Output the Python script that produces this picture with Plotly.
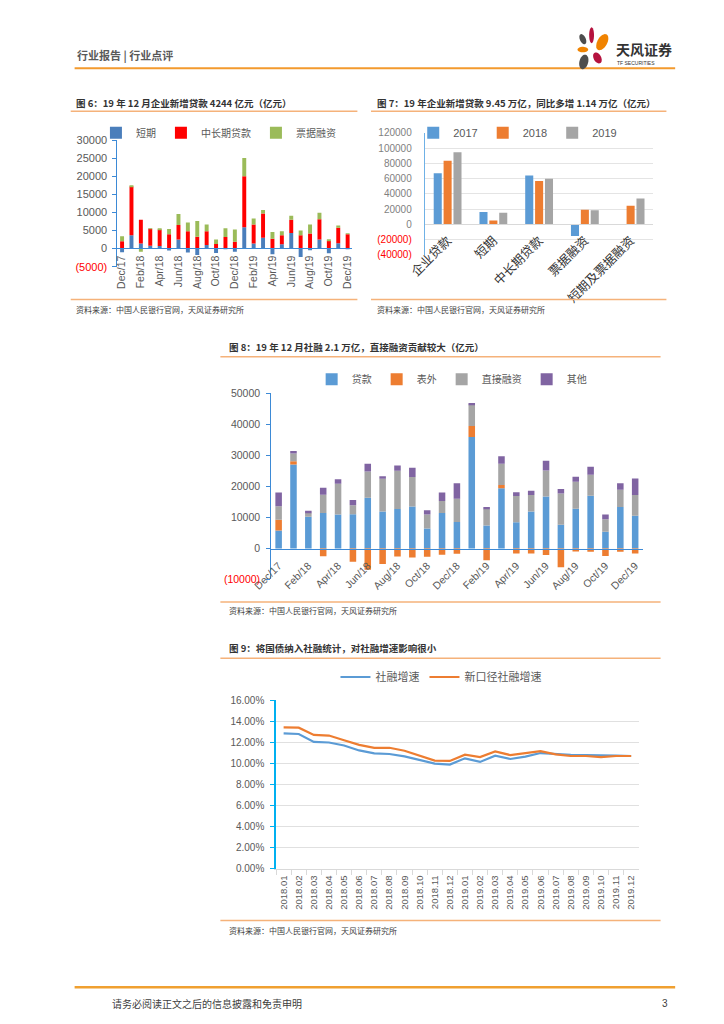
import numpy as np
import plotly.graph_objects as go

# Page is 724x1024; the figure sits inside the browser's default 8px body margin.
PAGE_W, PAGE_H = 724, 1024
OFF = 8
W, H = PAGE_W - 2 * OFF, PAGE_H - 2 * OFF
def px(x): return (x - OFF) / W
def py(y): return 1 - (y - OFF) / H

CJK = "Noto Sans CJK SC"
NUM = "Liberation Sans"
GRAY = "#595959"

# ---------------- Fig 6 data ----------------
months = ["Dec/17", "Jan/18", "Feb/18", "Mar/18", "Apr/18", "May/18", "Jun/18", "Jul/18",
          "Aug/18", "Sep/18", "Oct/18", "Nov/18", "Dec/18", "Jan/19", "Feb/19", "Mar/19",
          "Apr/19", "May/19", "Jun/19", "Jul/19", "Aug/19", "Sep/19", "Oct/19", "Nov/19", "Dec/19"]
month_ticks = ["Dec/17", "Feb/18", "Apr/18", "Jun/18", "Aug/18", "Oct/18", "Dec/18",
               "Feb/19", "Apr/19", "Jun/19", "Aug/19", "Oct/19", "Dec/19"]
f6_names = ["短期", "中长期贷款", "票据融资"]
f6_short = [-1000, 3700, 1400, 800, 700, -500, 2500, -1100, -1800, 1000, -1200, 100, -900,
            5900, 1400, 3000, -1600, 1200, 4300, -2300, -400, 2500, -1300, 1500, 100]
f6_midlong = [2000, 13500, 6600, 4700, 4600, 4000, 4000, 4800, 3300, 3800, 1300, 3100, 1900,
              14100, 5300, 6700, 2700, 2500, 3700, 3700, 4200, 5600, 2200, 4300, 3900]
f6_bill = [1400, 200, -900, 100, 200, 1400, 3100, 2400, 4300, 1900, 1200, 2400, 3400,
           5100, 1600, 1000, 1900, 1100, 1100, 1300, 2500, 1800, 200, 600, 200]
f6_yticks = [-5000, 0, 5000, 10000, 15000, 20000, 25000, 30000]
f6_yticktext = ['<span style="color:#FF0000">(5000)</span>', "0", "5000", "10000", "15000",
                "20000", "25000", "30000"]

# ---------------- Fig 7 data ----------------
f7_cats = ["企业贷款", "短期", "中长期贷款", "票据融资", "短期及票据融资"]
f7_years = ["2017", "2018", "2019"]
f7_2017 = [67000, 16400, 64000, -15100, None]
f7_2018 = [83500, 5200, 56800, 19400, 24600]
f7_2019 = [94500, 15500, 59800, 18600, 34100]
f7_yticks = [-40000, -20000, 0, 20000, 40000, 60000, 80000, 100000, 120000]
f7_yticktext = ['<span style="color:#FF0000">(40000)</span>', '<span style="color:#FF0000">(20000)</span>',
                "0", "20000", "40000", "60000", "80000", "100000", "120000"]

# ---------------- Fig 8 data ----------------
f8_names = ["贷款", "表外", "直接融资", "其他"]
f8_loan = [5800, 27000, 10200, 11400, 10900, 11000, 16300, 11900, 12700, 13500, 6400, 11400, 8500,
           35900, 7400, 19400, 8400, 11900, 16700, 7600, 12800, 17000, 5400, 13300, 10500]
f8_offbal = [3400, 1100, 0, -2500, 0, -4300, -6900, -5000, -2600, -2900, -2700, -2000, -1700,
             3500, -3800, 1000, -1600, -1600, -2100, -6100, -1000, -1100, -2400, -1100, -1600]
f8_direct = [4400, 2500, 1300, 5900, 9900, 2900, 8500, 10500, 12300, 9500, 4500, 3900, 7500,
             6900, 5400, 6900, 8500, 5300, 8400, 10100, 8700, 6700, 4000, 5600, 6700]
f8_other = [4400, 800, 600, 2200, 1500, 1700, 2500, 800, 1700, 3000, 1400, 2700, 5000,
            500, 500, 2400, 1200, 1400, 3100, 1400, 1600, 2600, 1500, 2100, 5300]
f8_yticks = [-10000, 0, 10000, 20000, 30000, 40000, 50000]
f8_yticktext = ['<span style="color:#FF0000">(10000)</span>', "0", "10000", "20000", "30000",
                "40000", "50000"]

# ---------------- Fig 9 data ----------------
f9_months = ["2018.01", "2018.02", "2018.03", "2018.04", "2018.05", "2018.06", "2018.07", "2018.08",
             "2018.09", "2018.10", "2018.11", "2018.12", "2019.01", "2019.02", "2019.03", "2019.04",
             "2019.05", "2019.06", "2019.07", "2019.08", "2019.09", "2019.10", "2019.11", "2019.12"]
f9_names = ["社融增速", "新口径社融增速"]
f9_tsf = [12.84, 12.78, 12.03, 11.97, 11.69, 11.22, 10.94, 10.88, 10.66, 10.34, 9.97, 9.88,
          10.47, 10.13, 10.72, 10.41, 10.63, 10.97, 10.88, 10.81, 10.78, 10.72, 10.72, 10.69]
f9_tsf_new = [13.41, 13.38, 12.69, 12.63, 12.19, 11.75, 11.47, 11.47, 11.19, 10.72, 10.25, 10.22,
              10.81, 10.59, 11.13, 10.78, 11.00, 11.16, 10.84, 10.69, 10.69, 10.59, 10.69, 10.69]

SOURCE = "资料来源：中国人民银行官网，天风证券研究所"


def stack_bases(*series):
    n = len(series[0])
    pos = np.zeros(n)
    neg = np.zeros(n)
    out = []
    for s in series:
        a = np.array(s, dtype=float)
        out.append(np.where(a >= 0, pos, neg))
        pos = pos + np.clip(a, 0, None)
        neg = neg + np.clip(a, None, 0)
    return out


fig = go.Figure()

# Fig 6 stacked bars
f6_colors = ["#4A7EBB", "#FF0000", "#9BBB59"]
for name, vals, base, col in zip(f6_names, [f6_short, f6_midlong, f6_bill],
                                 stack_bases(f6_short, f6_midlong, f6_bill), f6_colors):
    fig.add_trace(go.Bar(x=months, y=vals, base=base, name=name, width=0.42, offset=-0.21,
                         marker=dict(color=col, line=dict(width=0)), xaxis="x", yaxis="y",
                         legend="legend"))

# Fig 7 grouped bars
f7_colors = ["#5B9BD5", "#ED7D31", "#A5A5A5"]
for name, vals, col, off in zip(f7_years, [f7_2017, f7_2018, f7_2019], f7_colors,
                                [-0.304, -0.088, 0.128]):
    fig.add_trace(go.Bar(x=f7_cats, y=vals, name=name, width=0.176, offset=off,
                         marker=dict(color=col, line=dict(width=0)), xaxis="x2", yaxis="y2",
                         legend="legend2"))

# Fig 8 stacked bars
f8_colors = ["#5B9BD5", "#ED7D31", "#A5A5A5", "#8064A2"]
for name, vals, base, col in zip(f8_names, [f8_loan, f8_offbal, f8_direct, f8_other],
                                 stack_bases(f8_loan, f8_offbal, f8_direct, f8_other), f8_colors):
    fig.add_trace(go.Bar(x=months, y=vals, base=base, name=name, width=0.44, offset=-0.22,
                         marker=dict(color=col, line=dict(width=0)), xaxis="x3", yaxis="y3",
                         legend="legend3"))

# Fig 9 lines
for name, vals, col in zip(f9_names, [f9_tsf, f9_tsf_new], ["#5B9BD5", "#ED7D31"]):
    fig.add_trace(go.Scatter(x=f9_months, y=vals, name=name, mode="lines",
                             line=dict(color=col, width=2.2), xaxis="x4", yaxis="y4",
                             legend="legend4"))

BLUE_AX = "#3D8AD6"
num_font = lambda s, c=GRAY: dict(family=NUM, size=s, color=c)

leg_common = dict(orientation="h", xanchor="center", yanchor="middle",
                  bgcolor="rgba(0,0,0,0)", itemwidth=30, tracegroupgap=0)

fig.update_layout(
    width=W, height=H, margin=dict(l=0, r=0, t=0, b=0),
    paper_bgcolor="white", plot_bgcolor="rgba(0,0,0,0)",
    barmode="overlay", font=dict(family=CJK, color="#404040"),
    # Fig 6
    xaxis=dict(domain=[px(101), px(342.8)], type="category", range=[-0.5, 24.5],
               anchor="free", position=py(245.3), showline=True, linecolor=BLUE_AX, linewidth=1,
               tickmode="array", tickvals=month_ticks, ticktext=month_ticks, tickangle=-90,
               tickfont=num_font(10.5), ticks="", showgrid=False, zeroline=False,
               ticklabelstandoff=2),
    yaxis=dict(domain=[py(263.7), py(135.7)], anchor="x", range=[-5000, 30000],
               tickmode="array", tickvals=f6_yticks, ticktext=f6_yticktext,
               showline=True, linecolor=BLUE_AX, ticks="outside", ticklen=4, tickcolor=BLUE_AX,
               showgrid=False, zeroline=False, tickfont=num_font(11), ticklabelstandoff=3),
    # Fig 7
    xaxis2=dict(domain=[px(417.3), px(652.7)], type="category", range=[-0.5, 4.5],
                anchor="free", position=py(221), showline=True, linecolor="#D9D9D9", linewidth=1,
                tickangle=-45, tickfont=dict(family=CJK, size=12.5, color="#333333"), ticks="",
                showgrid=False, zeroline=False, ticklabelstandoff=3),
    yaxis2=dict(domain=[py(251.9), py(128.3)], anchor="x2", range=[-40000, 120000],
                tickmode="array", tickvals=f7_yticks, ticktext=f7_yticktext,
                showline=True, linecolor="#6FB1E6", ticks="", showgrid=True, gridcolor="#E4E4E4",
                gridwidth=1, zeroline=False, tickfont=num_font(10, "#7F7F7F"), ticklabelstandoff=10),
    # Fig 8
    xaxis3=dict(domain=[px(259.3), px(641.5)], type="category", range=[-0.5, 24.5],
                anchor="free", position=py(549), showline=True, linecolor=BLUE_AX, linewidth=1,
                tickmode="array", tickvals=month_ticks, ticktext=month_ticks, tickangle=-45,
                tickfont=num_font(10.5), ticks="", showgrid=False, zeroline=False,
                ticklabelstandoff=6),
    yaxis3=dict(domain=[py(580.3), py(391.7)], anchor="x3", range=[-10000, 50000],
                tickmode="array", tickvals=f8_yticks, ticktext=f8_yticktext,
                showline=True, linecolor=BLUE_AX, ticks="outside", ticklen=4, tickcolor=BLUE_AX,
                showgrid=False, zeroline=False, tickfont=num_font(10.5), ticklabelstandoff=4),
    # Fig 9
    xaxis4=dict(domain=[px(264.3), px(637.5)], type="category", range=[-0.5, 23.5],
                anchor="y4", showline=True, linecolor="#D9D9D9", linewidth=1,
                ticks="outside", tickson="boundaries", ticklen=5, tickcolor="#D9D9D9",
                tickangle=-90, tickfont=num_font(9.5), showgrid=False, zeroline=False,
                ticklabelstandoff=2),
    yaxis4=dict(domain=[py(873), py(702.3)], anchor="x4", range=[0, 16], dtick=2,
                tickformat=".2f", ticksuffix="%", showline=True, linecolor="#00B0F0", linewidth=1.5,
                ticks="outside", ticklen=4, tickcolor="#00B0F0", showgrid=True,
                gridcolor="#E0E0E0", gridwidth=1, zeroline=False, tickfont=num_font(10),
                ticklabelstandoff=4),
    legend=dict(x=px(205), y=py(128.3), font=dict(family=CJK, size=10, color=GRAY), **leg_common),
    legend2=dict(x=px(513), y=py(128.3), font=dict(family=NUM, size=11, color=GRAY), **leg_common),
    legend3=dict(x=px(445), y=py(377.7), font=dict(family=CJK, size=10, color=GRAY), **leg_common),
    legend4=dict(x=px(434), y=py(679), font=dict(family=CJK, size=11, color=GRAY), **leg_common),
)

# ---------- page decorations: lines ----------
def hline(x0, x1, y, color, width):
    fig.add_shape(type="line", xref="paper", yref="paper", x0=px(x0), x1=px(x1),
                  y0=py(y), y1=py(y), line=dict(color=color, width=width))

LIGHT_OR = "#F5B27A"
hline(57, 675, 63, "#F39A2E", 2)
hline(53, 348, 106.5, LIGHT_OR, 1.5)
hline(53, 348, 297, LIGHT_OR, 1.5)
hline(362, 666, 106.5, LIGHT_OR, 1.5)
hline(362, 666, 297, LIGHT_OR, 1.5)
hline(207, 660, 355, LIGHT_OR, 1.5)
hline(207, 660, 603, LIGHT_OR, 1.5)
hline(207, 660, 660, LIGHT_OR, 1.5)
hline(207, 660, 925.5, LIGHT_OR, 1.5)
hline(57, 675, 993, "#F0A030", 2.5)

# ---------- logo petals ----------
def ellipse_path(cx, cy, rx, ry, ang):
    t = np.linspace(0, 2 * np.pi, 30)
    a = np.deg2rad(ang)
    xs = cx + rx * np.cos(t) * np.cos(a) - ry * np.sin(t) * np.sin(a)
    ys = cy + rx * np.cos(t) * np.sin(a) + ry * np.sin(t) * np.cos(a)
    pts = [f"{px(x):.5f},{py(y):.5f}" for x, y in zip(xs, ys)]
    return "M" + "L".join(pts) + "Z"

petals = [(580, 33.5, 3, 5.5, -25, "#4D4D4D"),
          (589, 29.5, 2.5, 8, 0, "#B5123E"),
          (600, 36.5, 5, 9, 30, "#F08300"),
          (580, 44, 5.5, 2.8, 0, "#F08300"),
          (581, 56.5, 4.5, 7.5, 15, "#4D4D4D"),
          (595, 52.5, 3.8, 6, -30, "#B5123E")]
for cx, cy, rx, ry, ang, col in petals:
    fig.add_shape(type="path", xref="paper", yref="paper", path=ellipse_path(cx, cy, rx, ry, ang),
                  fillcolor=col, line=dict(width=0))

# ---------- texts ----------
def text(x, y, s, size, color="#333333", family=CJK, anchor="left"):
    fig.add_annotation(xref="paper", yref="paper", x=px(x), y=py(y), text=s, showarrow=False,
                       xanchor=anchor, yanchor="middle", font=dict(family=family, size=size, color=color))

text(57, 50, "<b>行业报告 | 行业点评</b>", 11, "#595959")
text(612, 43, "<b>天风证券</b>", 14, "#333333")
text(613, 57.5, "TF SECURITIES", 5, "#333333", NUM)
text(56, 97.7, "<b>图 6：19 年 12 月企业新增贷款 4244 亿元（亿元）</b>", 9.5)
text(366, 97.7, "<b>图 7：19 年企业新增贷款 9.45 万亿，同比多增 1.14 万亿（亿元）</b>", 9.5)
text(214, 345, "<b>图 8：19 年 12 月社融 2.1 万亿，直接融资贡献较大（亿元）</b>", 9.5)
text(214, 650, "<b>图 9：将国债纳入社融统计，对社融增速影响很小</b>", 9.5)
text(56, 307, SOURCE, 8, "#404040")
text(366, 307, SOURCE, 8, "#404040")
text(214, 612, SOURCE, 8, "#404040")
text(214, 935.5, SOURCE, 8, "#404040")
text(93, 1009, "请务必阅读正文之后的信息披露和免责申明", 10, "#404040")
text(670, 1009, "3", 10, "#404040", NUM, "right")

fig.write_html("out.html", config={"displayModeBar": False})
